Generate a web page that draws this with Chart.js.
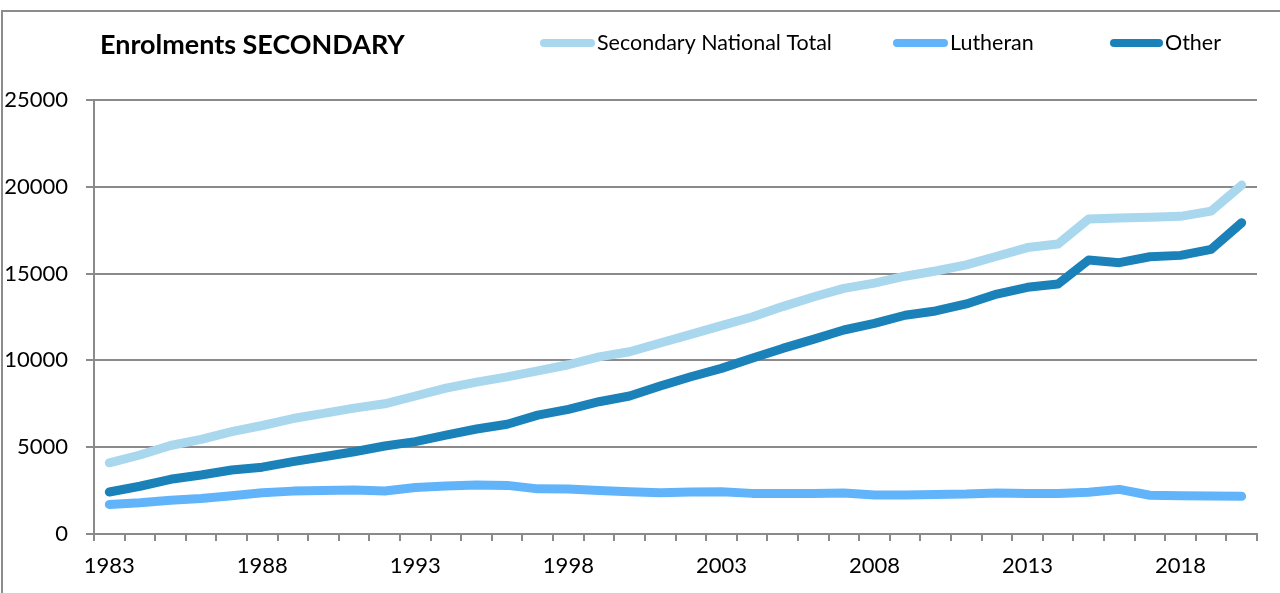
<!DOCTYPE html>
<html><head><meta charset="utf-8">
<script src="https://cdn.jsdelivr.net/npm/chart.js@4/dist/chart.umd.min.js"></script>
<style>html,body{margin:0;padding:0;background:#fff;overflow:hidden}#wrap{position:relative;width:1280px;height:593px}</style>
</head><body><div id="wrap"><canvas id="c" width="1280" height="593"></canvas></div>
<script>
const years = [1983,1984,1985,1986,1987,1988,1989,1990,1991,1992,1993,1994,1995,1996,1997,1998,1999,2000,2001,2002,2003,2004,2005,2006,2007,2008,2009,2010,2011,2012,2013,2014,2015,2016,2017,2018,2019,2020];
const totalValues = [4100,4550,5100,5450,5900,6250,6650,6950,7250,7500,7950,8400,8750,9050,9400,9750,10200,10500,11000,11500,12000,12500,13100,13650,14150,14450,14850,15150,15500,16000,16500,16700,18150,18200,18250,18300,18600,20100];
const lutheranValues = [1700,1800,1950,2050,2200,2380,2470,2500,2530,2480,2680,2760,2820,2800,2600,2590,2500,2440,2380,2420,2440,2340,2340,2340,2360,2250,2250,2280,2300,2360,2340,2340,2400,2570,2230,2210,2190,2170];
const otherValues = [2420,2750,3150,3400,3690,3850,4170,4450,4740,5070,5320,5700,6050,6320,6850,7180,7620,7950,8520,9060,9540,10120,10690,11210,11750,12130,12600,12850,13250,13820,14210,14400,15780,15630,15970,16050,16400,17930];
const seriesNames = ['Secondary National Total','Lutheran','Other'];
const seriesColors = ['#A9D7EE','#62B4FA','#1A82B8'];
const chartTitle = 'Enrolments SECONDARY';

function fitSize(ctx, text, weight, family, targetW){
  ctx.font = weight + ' 100px ' + family;
  return 100 * targetW / ctx.measureText(text).width;
}

const decor = {
  id: 'decor',
  beforeDraw(chart){
    const ctx = chart.ctx;
    ctx.save();
    ctx.fillStyle = '#fff';
    ctx.fillRect(0,0,chart.width,chart.height);
    ctx.strokeStyle = '#8c8c8c';
    ctx.lineWidth = 2;
    ctx.strokeRect(2,11,1300,600);
    ctx.restore();
  },
  afterDraw(chart){
    const ctx = chart.ctx;
    ctx.save();
    const ts = fitSize(ctx, chartTitle, 'bold', 'Lato', 305);
    ctx.font = 'bold ' + ts + 'px Lato';
    ctx.fillStyle = '#000';
    ctx.textBaseline = 'middle';
    ctx.textAlign = 'left';
    ctx.fillText(chartTitle, 100, 45);
    const ls = fitSize(ctx, seriesNames[0], 'normal', 'Lato', 235);
    const items = [[540,597],[893,950],[1110,1165]];
    items.forEach((it,i)=>{
      ctx.strokeStyle = seriesColors[i];
      ctx.lineWidth = 8;
      ctx.lineCap = 'round';
      ctx.beginPath();
      ctx.moveTo(it[0]+4,43); ctx.lineTo(it[1]-6,43); ctx.stroke();
      ctx.font = ls + 'px Lato';
      ctx.fillStyle = '#000';
      ctx.fillText(seriesNames[i], it[1], 43);
    });
    ctx.restore();
  }
};

const valueSets = [totalValues, lutheranValues, otherValues];
new Chart(document.getElementById('c'), {
  type: 'line',
  data: {
    labels: years,
    datasets: valueSets.map((v,i)=>({
      label: seriesNames[i], data: v, borderColor: seriesColors[i], backgroundColor: seriesColors[i],
      borderWidth: 9, pointRadius: 0, tension: 0, borderCapStyle: 'round', borderJoinStyle: 'round', fill: false
    }))
  },
  options: {
    responsive: false, animation: false,
    layout: {padding: {top: 100, right: 23, bottom: 0, left: 0}},
    plugins: {legend: {display: false}, title: {display: false}, tooltip: {enabled: false}},
    scales: {
      x: {
        offset: true,
        grid: {offset: true, drawOnChartArea: false, drawTicks: true, tickLength: 7, color: '#8a8a8a', lineWidth: 2},
        border: {color: '#8a8a8a', width: 2},
        ticks: {autoSkip: false, maxRotation: 0, padding: 12, color: '#000', font: {family: 'Lato', size: 22},
          callback: (v,i) => (i % 5 === 0 ? String(years[i]) : '')},
        afterFit: s => { s.height = 59; }
      },
      y: {
        min: 0, max: 25000,
        ticks: {stepSize: 5000, padding: 18, color: '#000', font: {family: 'Lato', size: 22},
          callback: v => String(v)},
        grid: {color: '#8a8a8a', lineWidth: 2, tickLength: 8},
        border: {color: '#8a8a8a', width: 2},
        afterFit: s => { s.width = 94; }
      }
    }
  },
  plugins: [decor]
});
</script></body></html>
